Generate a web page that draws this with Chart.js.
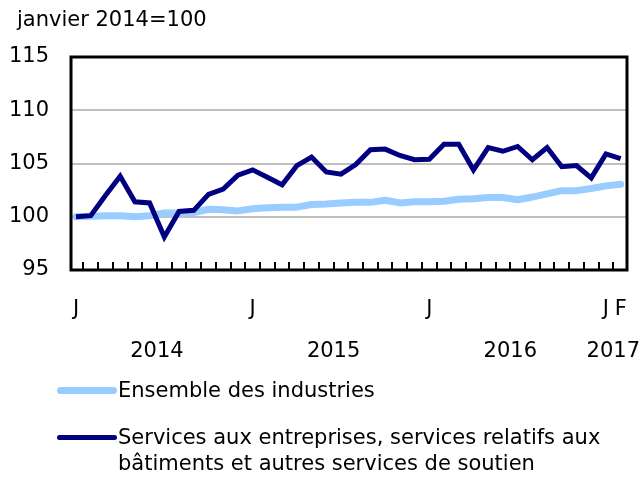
<!DOCTYPE html>
<html><head><meta charset="utf-8">
<script src="https://cdn.jsdelivr.net/npm/chart.js@4/dist/chart.umd.min.js"></script>
<style>
html,body{margin:0;padding:0;background:#fff;}
#wrap{position:relative;width:641px;height:478px;overflow:hidden;font-family:"DejaVu Sans",Verdana,sans-serif;color:#000;}
canvas{position:absolute;left:0;top:0;}
#title{position:absolute;left:17px;top:6px;font-size:21px;line-height:26px;white-space:nowrap;}
.leg{position:absolute;left:0;width:641px;font-size:21px;line-height:26px;}
.sw{position:absolute;left:57px;width:60px;}
.lt{position:absolute;left:118px;width:520px;}
</style></head>
<body><div id="wrap"><canvas id="c" width="641" height="478"></canvas>
<div id="title">janvier 2014=100</div>
<div id="legend"></div></div>
<script>
// ---- data ----
const categories = ["2014-01","2014-02","2014-03","2014-04","2014-05","2014-06","2014-07","2014-08","2014-09","2014-10","2014-11","2014-12",
"2015-01","2015-02","2015-03","2015-04","2015-05","2015-06","2015-07","2015-08","2015-09","2015-10","2015-11","2015-12",
"2016-01","2016-02","2016-03","2016-04","2016-05","2016-06","2016-07","2016-08","2016-09","2016-10","2016-11","2016-12",
"2017-01","2017-02"];
const monthInitials = ["J","F","M","A","M","J","J","A","S","O","N","D"];
const years = ["2014","2015","2016","2017"];
const seriesNames = ["Ensemble des industries","Services aux entreprises, services relatifs aux bâtiments et autres services de soutien"];
const allIndustries = [100.0,100.05,100.1,100.1,100.0,100.1,100.35,100.35,100.4,100.7,100.65,100.55,
100.75,100.85,100.9,100.9,101.15,101.2,101.3,101.35,101.35,101.55,101.3,101.4,
101.4,101.45,101.65,101.7,101.8,101.8,101.6,101.85,102.15,102.45,102.45,102.65,
102.9,103.05];
const businessServices = [100.0,100.1,102.0,103.8,101.4,101.3,98.1,100.5,100.6,102.1,102.6,103.9,
104.4,103.7,103.0,104.8,105.6,104.2,104.0,104.9,106.3,106.35,105.75,105.35,
105.4,106.8,106.8,104.4,106.5,106.15,106.6,105.35,106.5,104.7,104.8,103.65,
105.9,105.45];
const yTicks = [95,100,105,110,115];
const colors = ["#99ccff","#000080"];

// ---- derived ----
const shownIdx = categories.map((c,i)=>i).filter(i => categories[i].endsWith("-01") || i === categories.length-1);
const monthLabel = i => monthInitials[parseInt(categories[i].slice(5),10)-1];
const yearCenters = years.map(y => {
  const idx = categories.map((c,i)=>c.startsWith(y)?i:-1).filter(i=>i>=0);
  return (idx[0] + idx[idx.length-1]) / 2;
});
const toXY = arr => arr.map((v,i)=>({x:i,y:v}));

Chart.defaults.font.family = "'DejaVu Sans', Verdana, sans-serif";
Chart.defaults.font.size = 21;
Chart.defaults.color = "#000";

const xMin = -0.34, xMax = categories.length - 1 + 0.43;
const noPad = s => { s.paddingLeft = 0; s.paddingRight = 0; };

const frame = {
  id:'frame',
  afterDraw(chart){
    const {ctx, chartArea:a} = chart; const x = chart.scales.x;
    ctx.save();
    ctx.strokeStyle = '#000';
    ctx.lineWidth = 2;
    for (let i = 0; i < categories.length-1; i++) {
      const px = Math.round(x.getPixelForValue(i+0.5));
      ctx.beginPath(); ctx.moveTo(px, a.bottom); ctx.lineTo(px, a.bottom-8); ctx.stroke();
    }
    ctx.lineWidth = 3;
    ctx.strokeRect(a.left, a.top, a.right-a.left, a.bottom-a.top);
    ctx.restore();
  }
};

new Chart(document.getElementById('c'), {
  type:'line',
  data:{
    datasets:[
      {label:seriesNames[0], data:toXY(allIndustries), borderColor:colors[0], backgroundColor:colors[0], borderWidth:7, pointRadius:0, tension:0, borderJoinStyle:'round', borderCapStyle:'round', order:1},
      {label:seriesNames[1], data:toXY(businessServices), borderColor:colors[1], backgroundColor:colors[1], borderWidth:5, pointRadius:0, tension:0, borderJoinStyle:'miter', order:0}
    ]
  },
  options:{
    responsive:false, animation:false, devicePixelRatio:1,
    layout:{padding:{top:57, right:14, bottom:115, left:0}},
    plugins:{legend:{display:false}, tooltip:{enabled:false}},
    scales:{
      x:{type:'linear', position:'bottom', min:xMin, max:xMax,
        afterBuildTicks:s=>{ s.ticks = shownIdx.map(v=>({value:v})); },
        ticks:{callback:v=>monthLabel(v), maxRotation:0, autoSkip:false, padding:19},
        grid:{display:false}, border:{display:false},
        afterFit:s=>{ s.height = 54; noPad(s); }
      },
      x2:{type:'linear', position:'bottom', min:xMin, max:xMax,
        afterBuildTicks:s=>{ s.ticks = yearCenters.map(v=>({value:v})); },
        ticks:{callback:(v)=>years[yearCenters.indexOf(v)], maxRotation:0, autoSkip:false, padding:7},
        grid:{display:false}, border:{display:false},
        afterFit:s=>{ s.height = 39; noPad(s); }
      },
      y:{min:95, max:115,
        afterBuildTicks:s=>{ s.ticks = yTicks.map(v=>({value:v})); },
        ticks:{padding:22},
        grid:{color:'#c0c0c0', lineWidth:2, drawTicks:false}, border:{display:false},
        afterFit:s=>{ s.width = 71; s.paddingTop = 0; s.paddingBottom = 0; }
      }
    }
  },
  plugins:[frame]
});

// HTML legend
const legendTops = [377, 424];
const swY = [390, 437];
const swH = [7, 5];
const leg = document.getElementById('legend');
seriesNames.forEach((n,k)=>{
  const sw = document.createElement('div');
  sw.className = 'sw';
  sw.style.top = (swY[k]-swH[k]/2)+'px'; sw.style.height = swH[k]+'px';
  sw.style.background = colors[k]; sw.style.borderRadius = (swH[k]/2)+'px';
  leg.appendChild(sw);
  const t = document.createElement('div');
  t.className = 'leg lt';
  t.style.top = legendTops[k]+'px'; t.textContent = n;
  leg.appendChild(t);
});
</script>
</body></html>
